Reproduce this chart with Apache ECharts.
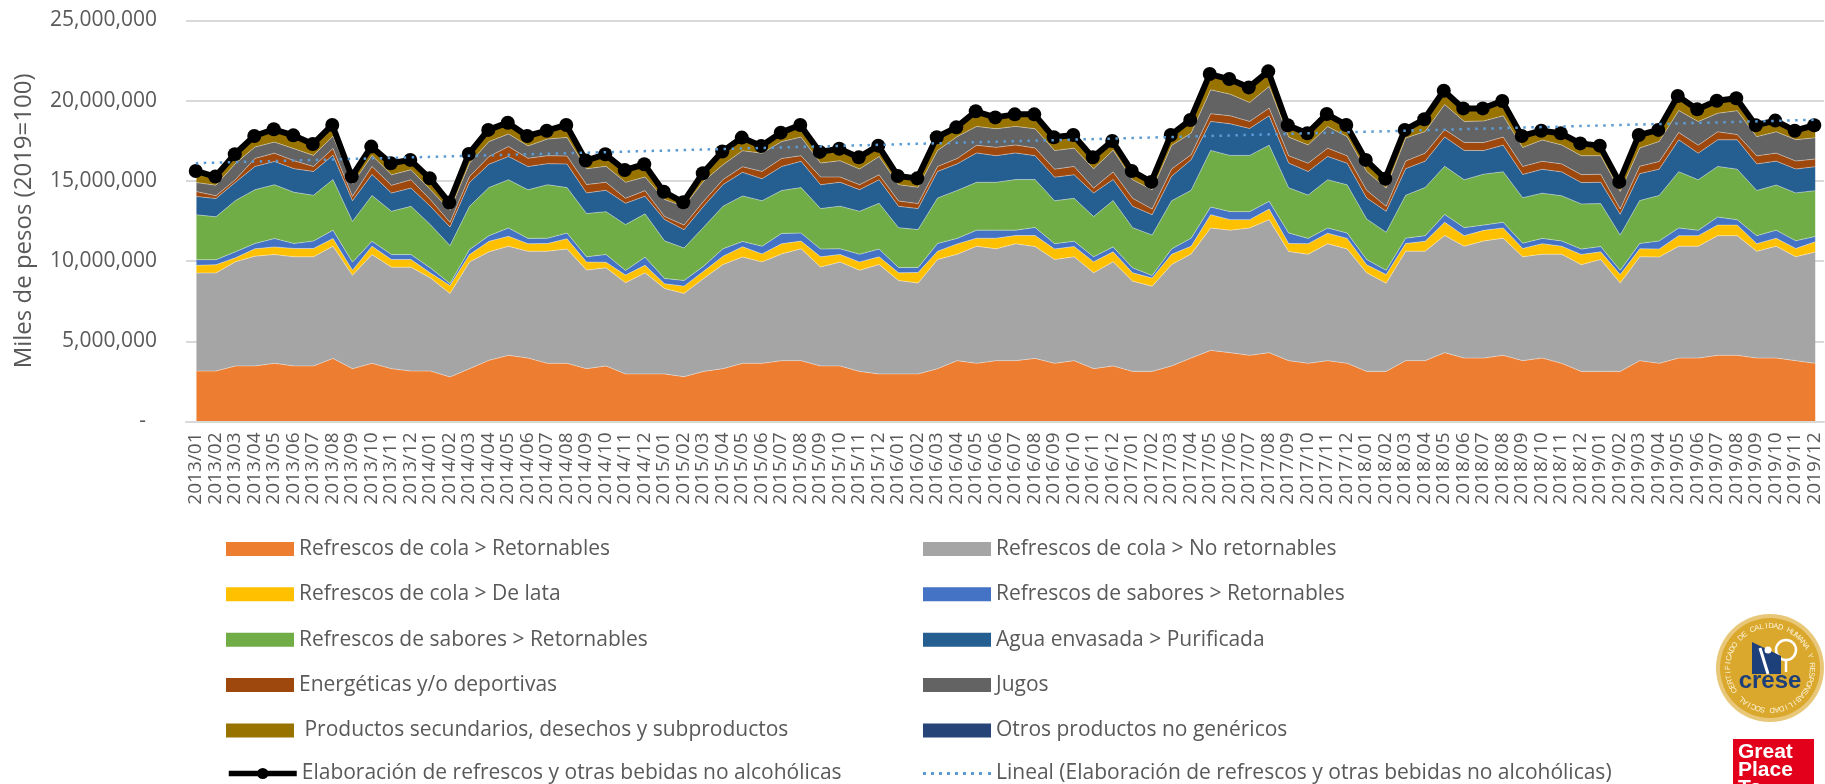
<!DOCTYPE html>
<html>
<head>
<meta charset="utf-8">
<title>Elaboración de refrescos</title>
<style>
	html, body { margin: 0; padding: 0; background: #fff; }
	#chart { width: 1825px; height: 784px; }
</style>
<script src="https://cdn.jsdelivr.net/npm/echarts@6/dist/echarts.min.js"></script>
</head>
<body>
<div id="chart"></div>
<script>
// months 2013/01 - 2019/12
var years = ['2013', '2014', '2015', '2016', '2017', '2018', '2019'];
var monthNames = ['01', '02', '03', '04', '05', '06', '07', '08', '09', '10', '11', '12'];
var categories = [];
for (var y = 0; y < years.length; y++) {
	for (var m = 0; m < monthNames.length; m++) {
		categories.push(years[y] + '/' + monthNames[m]);
	}
}

// all values in millions of "miles de pesos"
var colaRetornables = [3.11,3.11,3.43,3.43,3.59,3.43,3.43,3.90,3.26,3.59,3.26,3.11,3.11,2.74,3.26,3.78,4.09,3.92,3.59,3.59,3.26,3.43,
	2.93,2.93,2.93,2.76,3.09,3.26,3.59,3.59,3.76,3.76,3.43,3.43,3.09,2.93,2.93,2.93,3.26,3.76,3.59,3.76,3.76,3.90,3.59,3.76,3.26,3.43,3.09,3.09,3.43,3.92,4.40,
	4.26,4.09,4.26,3.76,3.59,3.76,3.59,3.09,3.09,3.76,3.76,4.26,3.92,3.92,4.09,3.76,3.92,3.59,3.09,3.09,3.09,3.76,3.59,3.92,3.92,4.09,4.09,3.92,3.92,3.76,3.59];
var colaNoRetornables = [6.12,6.12,6.50,6.85,6.79,6.81,6.81,7.00,5.83,6.79,6.33,6.48,5.81,5.21,6.66,6.77,6.81,6.66,7.00,7.14,6.15,6.12,
	5.69,6.31,5.34,5.19,5.79,6.50,6.64,6.33,6.66,6.98,6.17,6.48,6.31,6.83,5.83,5.67,6.81,6.64,7.31,6.98,7.29,6.98,6.48,6.48,5.98,6.50,5.63,5.31,6.33,6.50,7.64,
	7.64,7.95,8.30,6.81,6.81,7.29,7.14,6.15,5.50,6.83,6.83,7.31,6.98,7.31,7.31,6.48,6.48,6.81,6.66,6.98,5.52,6.48,6.64,6.98,6.98,7.47,7.47,6.66,6.98,6.48,6.95];
var colaLata = [.48,.52,.25,.46,.48,.52,.52,.48,.31,.52,.48,.48,.31,.50,.46,.66,.62,.48,.48,.64,.50,.35,
	.48,.48,.29,.46,.46,.52,.64,.50,.64,.48,.64,.48,.52,.48,.48,.66,.52,.64,.50,.66,.52,.69,.66,.64,.69,.62,.52,.52,.64,.48,.83,
	.66,.52,.66,.50,.66,.66,.66,.50,.54,.48,.62,.83,.66,.66,.64,.52,.66,.50,.64,.48,.52,.50,.50,.66,.66,.66,.66,.48,.50,.52,.64];
var saboresAzul = [.35,.31,.37,.33,.52,.31,.46,.52,.50,.31,.31,.31,.31,.12,.31,.35,.52,.33,.33,.35,.33,.48,
	.29,.50,.33,.35,.31,.46,.33,.48,.64,.50,.48,.35,.48,.48,.33,.31,.48,.35,.50,.50,.33,.50,.33,.33,.31,.31,.31,.15,.33,.50,.48,
	.50,.50,.48,.66,.33,.33,.33,.33,.27,.33,.35,.48,.50,.33,.35,.33,.33,.33,.33,.33,.27,.33,.50,.48,.33,.50,.33,.50,.50,.48,.33];
var saboresVerde = [2.80,2.68,3.20,3.36,3.36,3.20,2.86,3.16,2.55,2.86,2.70,3.01,2.70,2.37,2.70,3.01,3.01,3.03,3.34,2.84,2.70,2.68,
	2.86,2.70,2.35,2.03,2.43,2.66,2.84,2.84,2.68,2.84,2.53,2.66,2.68,2.86,2.49,2.37,2.84,2.99,2.99,2.99,3.16,2.99,2.68,2.68,2.51,2.89,2.51,2.53,3.01,2.99,3.53,
	3.51,3.51,3.51,2.82,2.70,3.01,3.01,2.53,2.37,2.68,3.01,3.01,2.99,3.18,3.16,2.84,2.82,2.82,2.82,2.68,2.20,2.68,2.84,3.51,3.16,3.16,3.16,2.82,2.82,2.99,2.86];
var aguaPurificada = [1.14,1.14,1.14,1.45,1.45,1.47,1.49,1.52,1.29,1.31,1.14,1.14,1.14,1.16,1.49,1.45,1.45,1.45,1.31,1.47,1.29,1.33,
	1.33,1.10,1.33,1.14,1.31,1.35,1.47,1.37,1.49,1.64,1.49,1.49,1.35,1.47,1.33,1.31,1.66,1.66,1.83,1.66,1.66,1.49,1.47,1.47,1.47,1.31,1.33,1.27,1.52,1.91,1.81,
	1.97,1.68,1.83,1.54,1.47,1.45,1.35,1.31,1.31,1.66,1.64,1.83,1.83,1.47,1.66,1.45,1.49,1.49,1.33,1.33,1.29,1.68,1.64,1.99,1.66,1.66,1.83,1.66,1.49,1.49,1.49];
var energeticas = [.31,.17,.17,.50,.52,.50,.31,.42,.27,.50,.48,.52,.42,.29,.37,.48,.62,.52,.50,.50,.52,.50,
	.31,.35,.19,.29,.31,.31,.35,.46,.50,.35,.48,.33,.31,.31,.33,.31,.31,.33,.48,.52,.50,.48,.50,.52,.31,.48,.50,.35,.46,.31,.48,
	.50,.44,.48,.46,.52,.52,.46,.48,.31,.48,.50,.46,.50,.50,.50,.50,.50,.50,.50,.50,.33,.46,.48,.46,.50,.50,.33,.50,.50,.50,.48];
var jugos = [.56,.66,1.00,.71,.69,.75,.69,.77,.77,.69,.66,.62,.62,.75,.83,.93,.79,.77,1.04,1.16,.98,1.00,
	1.00,.85,1.06,1.16,1.25,.93,1.00,1.14,1.06,1.16,.87,1.02,.98,1.14,1.02,1.02,1.00,1.37,1.18,1.16,1.16,1.20,1.16,1.14,1.20,1.35,1.16,1.20,1.47,1.35,1.49,
	1.35,1.18,1.35,1.16,1.14,1.35,1.20,1.18,1.14,1.43,1.35,1.56,1.31,1.35,1.33,1.18,1.33,1.18,1.18,1.16,1.10,1.14,1.25,1.37,1.47,1.16,1.49,1.20,1.33,1.33,1.33];
var secundarios = [.73,.54,.60,.71,.81,.85,.73,.73,.48,.56,.73,.62,.73,.50,.58,.73,.71,.62,.54,.77,.54,.77,
	.79,.81,.52,.27,.52,.83,.81,.46,.56,.77,.71,.77,.75,.69,.56,.58,.83,.58,.95,.73,.77,.91,.83,.83,.73,.60,.56,.50,.66,.83,1.00,
	.95,.95,.95,.75,.73,.79,.73,.73,.60,.52,.77,.89,.83,.79,.93,.73,.58,.73,.77,.64,.60,.83,.73,.91,.77,.79,.77,.71,.71,.58,.77];
var otros = [.02,.02,.02,.03,.02,.02,.03,.02,.02,.02,.02,.03,.02,.02,.02,.03,.02,.02,.02,.03,.02,.02,
	.02,.03,.02,.02,.02,.03,.02,.02,.03,.02,.02,.02,.02,.03,.02,.02,.02,.03,.02,.02,.02,.03,.02,.02,.03,.02,.02,.02,.02,.03,.02,
	.02,.02,.03,.02,.02,.02,.03,.02,.02,.02,.03,.02,.02,.03,.02,.02,.02,.02,.03,.02,.02,.02,.03,.02,.02,.02,.03,.02,.02,.03,.02];
var total = [15.61,15.26,16.65,17.79,18.21,17.83,17.29,18.48,15.26,17.13,16.09,16.30,15.15,13.64,16.67,18.17,18.62,17.79,18.12,18.48,16.26,16.65,
	15.67,16.03,14.32,13.66,15.47,16.82,17.69,17.17,18.00,18.48,16.80,17.00,16.46,17.19,15.30,15.15,17.71,18.33,19.33,18.95,19.14,19.14,17.71,17.85,16.46,17.48,15.61,14.93,17.85,18.79,21.65,
	21.34,20.82,21.82,18.46,17.96,19.16,18.48,16.30,15.13,18.17,18.83,20.61,19.51,19.51,19.97,17.79,18.12,17.96,17.33,17.19,14.93,17.85,18.17,20.28,19.45,19.99,20.14,18.46,18.75,18.12,18.46];
// ends of the dotted trend line, as read
var trendLine = [['2013/01', 16.1], ['2019/12', 18.8]];

var nameColaRet = 'Refrescos de cola > Retornables';
var nameColaNo = 'Refrescos de cola > No retornables';
var nameLata = 'Refrescos de cola > De lata';
var nameAzul = 'Refrescos de sabores > Retornables ';
var nameVerde = 'Refrescos de sabores > Retornables';
var nameAgua = 'Agua envasada > Purificada';
var nameEnerg = 'Energéticas y/o deportivas';
var nameJugos = 'Jugos';
var nameSec = ' Productos secundarios, desechos y subproductos';
var nameOtros = 'Otros productos no genéricos';
var nameTotal = 'Elaboración de refrescos y otras bebidas no alcohólicas';
var nameLineal = 'Lineal (Elaboración de refrescos y otras bebidas no alcohólicas)';

var fontName = '"Open Sans", "Noto Sans", sans-serif';
var textColor = '#595959';
var trendColor = '#5B9BD5';

// nine dots for the legend of the trend line
var dottedIcon = 'path://M0 0h3v3h-3z M8 0h3v3h-3z M16 0h3v3h-3z M24 0h3v3h-3z M32 0h3v3h-3z M40 0h3v3h-3z M48 0h3v3h-3z M56 0h3v3h-3z M65 0h3v3h-3z';

function areaSerie(name, values, color) {
	return {
		name: name,
		type: 'line',
		xAxisIndex: 1,
		yAxisIndex: 1,
		stack: 'total',
		symbol: 'none',
		data: values,
		itemStyle: { color: color },
		lineStyle: { color: 'rgba(255,255,255,0.55)', width: 0.7 },
		areaStyle: { color: color, opacity: 1 },
		z: 2
	};
}

function legendBox(left, top, names) {
	var items = [];
	for (var i = 0; i < names.length; i++) {
		if (names[i] == nameTotal) {
			items.push({ name: names[i], lineStyle: { color: '#000', width: 5.5 } });
		} else if (names[i] == nameLineal) {
			items.push({ name: names[i], icon: dottedIcon, itemStyle: { color: trendColor } });
		} else {
			items.push({ name: names[i], icon: 'rect' });
		}
	}
	return {
		orient: 'vertical',
		left: left,
		top: top,
		padding: 0,
		itemWidth: 68,
		itemHeight: 14,
		itemGap: 24.4,
		selectedMode: false,
		data: items,
		textStyle: { fontFamily: fontName, fontSize: 21, color: textColor }
	};
}

// letters of the seal, placed around its ring
function sealText(cx, cy, r, text, startDeg, stepDeg) {
	var out = [];
	for (var i = 0; i < text.length; i++) {
		var a = (startDeg + i * stepDeg) * Math.PI / 180;
		out.push({
			type: 'text',
			x: cx + r * Math.sin(a),
			y: cy - r * Math.cos(a),
			rotation: -a,
			style: { text: text.charAt(i), fill: '#FBF3D9', font: '7.5px "Liberation Sans"', align: 'center', verticalAlign: 'middle' },
			z: 12
		});
	}
	return out;
}

var navy = '#1D3F7A';
var logos = [
	{ type: 'circle', shape: { cx: 1770, cy: 668, r: 54 }, style: { fill: '#E8C878' }, z: 10 },
	{ type: 'circle', shape: { cx: 1770, cy: 668, r: 50 }, style: { fill: '#DBA82E' }, z: 11 },
	{ type: 'circle', shape: { cx: 1786, cy: 650, r: 10 }, style: { fill: '#DBA82E', stroke: '#fff', lineWidth: 2.5 }, z: 12 },
	{ type: 'line', shape: { x1: 1786, y1: 660, x2: 1786, y2: 672 }, style: { stroke: '#fff', lineWidth: 2.5 }, z: 12 },
	{ type: 'polygon', shape: { points: [[1752, 642], [1781, 656], [1781, 674], [1752, 674]] }, style: { fill: navy }, z: 13 },
	{ type: 'line', shape: { x1: 1760, y1: 648, x2: 1768, y2: 674 }, style: { stroke: '#fff', lineWidth: 3 }, z: 14 },
	{ type: 'circle', shape: { cx: 1768, cy: 650, r: 3.5 }, style: { fill: '#fff' }, z: 14 },
	{ type: 'text', x: 1770, y: 681, style: { text: 'crese', fill: navy, font: 'bold 24px "Liberation Sans"', align: 'center', verticalAlign: 'middle' }, z: 15 },
	{ type: 'rect', shape: { x: 1733, y: 739, width: 81, height: 50 }, style: { fill: '#E2001A' }, z: 10 },
	{ type: 'text', x: 1738, y: 743, style: { text: 'Great\nPlace\nTo', fill: '#fff', font: 'bold 21px "Liberation Sans"', lineHeight: 18 }, z: 11 }
].concat(sealText(1770, 668, 42, 'CERTIFICADO DE CALIDAD HUMANA Y RESPONSABILIDAD SOCIAL', -122, 6.5));

var dom = document.getElementById('chart');
var chart = echarts.init(dom);

var option = {
	animation: false,
	backgroundColor: '#fff',
	grid: [
		{ left: 186, top: 20.3, width: 1638, height: 401.2 },
		{ left: 186.7, top: 20.3, width: 1639.7, height: 400.6 }
	],
	xAxis: [
		{
			type: 'category',
			gridIndex: 0,
			data: categories,
			boundaryGap: true,
			axisTick: { show: false },
			axisLine: { lineStyle: { color: '#d9d9d9', width: 2 } },
			axisLabel: {
				interval: 0,
				rotate: 90,
				margin: 11,
				fontFamily: fontName,
				fontSize: 19,
				color: textColor
			}
		},
		{ type: 'category', gridIndex: 1, data: categories, boundaryGap: true, show: false }
	],
	yAxis: [
		{
			type: 'value',
			gridIndex: 0,
			min: 0,
			max: 25,
			interval: 5,
			name: 'Miles de pesos (2019=100)',
			nameLocation: 'middle',
			nameGap: 150,
			nameTextStyle: { fontFamily: fontName, fontSize: 24, color: textColor },
			axisLine: { show: false },
			axisTick: { show: false },
			splitLine: { lineStyle: { color: '#d9d9d9', width: 2 } },
			axisLabel: {
				margin: 29,
				fontFamily: fontName,
				fontSize: 21,
				color: textColor,
				formatter: function (v) {
					if (v == 0) return '-  ';
					return (v * 1000000).toLocaleString('en-US');
				}
			}
		},
		{ type: 'value', gridIndex: 1, min: 0, max: 25, show: false }
	],
	legend: [
		legendBox(226, 538.4, [nameColaRet, nameLata, nameVerde, nameEnerg, nameSec]),
		legendBox(923, 538.4, [nameColaNo, nameAzul, nameAgua, nameJugos, nameOtros]),
		legendBox(226, 763, [nameTotal]),
		legendBox(923, 763, [nameLineal])
	],
	series: [
		areaSerie(nameColaRet, colaRetornables, '#ED7D31'),
		areaSerie(nameColaNo, colaNoRetornables, '#A5A5A5'),
		areaSerie(nameLata, colaLata, '#FFC000'),
		areaSerie(nameAzul, saboresAzul, '#4472C4'),
		areaSerie(nameVerde, saboresVerde, '#70AD47'),
		areaSerie(nameAgua, aguaPurificada, '#255E91'),
		areaSerie(nameEnerg, energeticas, '#9E480E'),
		areaSerie(nameJugos, jugos, '#636363'),
		areaSerie(nameSec, secundarios, '#997300'),
		areaSerie(nameOtros, otros, '#264478'),
		{
			name: nameTotal,
			type: 'line',
			data: total,
			symbol: 'circle',
			symbolSize: 14,
			clip: false,
			itemStyle: { color: '#000' },
			lineStyle: { color: '#000', width: 6 },
			z: 5
		},
		{
			name: nameLineal,
			type: 'line',
			data: trendLine,
			symbol: 'none',
			clip: false,
			itemStyle: { color: trendColor },
			lineStyle: { color: trendColor, width: 2.5, type: [2.5, 5.5] },
			z: 6
		}
	],
	graphic: logos
};

chart.setOption(option, true);
</script>
</body>
</html>
